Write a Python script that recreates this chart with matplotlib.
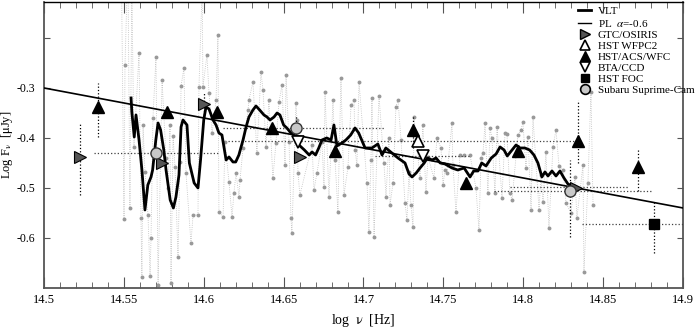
import numpy as np
import matplotlib
matplotlib.use('Agg')
import matplotlib.pyplot as plt
from matplotlib.lines import Line2D

plt.rcParams['font.family'] = ['Liberation Serif', 'DejaVu Serif']
plt.rcParams['mathtext.fontset'] = 'stix'

output_file = 'out.png'

# Grey spectrum points (log nu, log F)
spec_x = [14.5485, 14.5501, 14.5507, 14.5525, 14.5538, 14.5550, 14.5563, 14.5595, 14.5607,
          14.5613, 14.5620, 14.5632, 14.5651, 14.5664, 14.5670, 14.5682, 14.5701, 14.5714,
          14.5739, 14.5764, 14.5776, 14.5789, 14.5795, 14.5808, 14.5820, 14.5839, 14.5851,
          14.5858, 14.5876, 14.5889, 14.5920, 14.5933, 14.5964, 14.5970, 14.5990, 14.5995,
          14.6020, 14.6033, 14.6052, 14.6077, 14.6089, 14.6095, 14.6121, 14.6133, 14.6158,
          14.6177, 14.6189, 14.6202, 14.6221, 14.6227, 14.6246, 14.6277, 14.6283, 14.6308,
          14.6333, 14.6358, 14.6371, 14.6390, 14.6408, 14.6433, 14.6452, 14.6471, 14.6490,
          14.6509, 14.6515, 14.6534, 14.6546, 14.6552, 14.6577, 14.6584, 14.6590, 14.6602,
          14.6678, 14.6690, 14.6709, 14.6740, 14.6753, 14.6759, 14.6784, 14.6809, 14.6822,
          14.6840, 14.6859, 14.6878, 14.6903, 14.6922, 14.6941, 14.6947, 14.6959, 14.6972,
          14.7022, 14.7034, 14.7047, 14.7053, 14.7066, 14.7097, 14.7128, 14.7141, 14.7160,
          14.7166, 14.7185, 14.7203, 14.7216, 14.7235, 14.7260, 14.7272, 14.7285, 14.7297,
          14.7310, 14.7316, 14.7354, 14.7372, 14.7391, 14.7404, 14.7441, 14.7460, 14.7485,
          14.7498, 14.7510, 14.7523, 14.7554, 14.7560, 14.7579, 14.7604, 14.7629, 14.7667,
          14.7704, 14.7723, 14.7736, 14.7748, 14.7761, 14.7779, 14.7792, 14.7804, 14.7823,
          14.7836, 14.7867, 14.7886, 14.7898, 14.7917, 14.7930, 14.7967, 14.7986, 14.7998,
          14.8017, 14.8030, 14.8049, 14.8061, 14.8099, 14.8111, 14.8124, 14.8142, 14.8161,
          14.8186, 14.8205, 14.8224, 14.8249, 14.8268, 14.8299, 14.8324, 14.8336, 14.8374,
          14.8380, 14.8405, 14.8424, 14.8437]
spec_y = [-0.08, -0.562, -0.254, -0.05, -0.540, -0.10, -0.418, -0.230, -0.560,
          -0.678, -0.374, -0.468, -0.554, -0.676, -0.600, -0.360, -0.238, -0.694,
          -0.284, -0.440, -0.500, -0.374, -0.690, -0.396, -0.458, -0.638, -0.448,
          -0.296, -0.260, -0.470, -0.610, -0.554, -0.554, -0.298, -0.10, -0.298,
          -0.234, -0.310, -0.390, -0.324, -0.194, -0.548, -0.558, -0.408, -0.488,
          -0.558, -0.510, -0.470, -0.518, -0.484, -0.420, -0.344, -0.324, -0.288,
          -0.430, -0.268, -0.304, -0.418, -0.324, -0.480, -0.410, -0.328, -0.294,
          -0.454, -0.274, -0.408, -0.560, -0.590, -0.330, -0.364, -0.470, -0.514,
          -0.414, -0.504, -0.470, -0.408, -0.498, -0.308, -0.518, -0.324, -0.444,
          -0.548, -0.280, -0.514, -0.458, -0.334, -0.324, -0.424, -0.454, -0.288,
          -0.490, -0.588, -0.444, -0.320, -0.598, -0.316, -0.450, -0.518, -0.400,
          -0.534, -0.490, -0.338, -0.324, -0.404, -0.530, -0.564, -0.468, -0.534,
          -0.578, -0.358, -0.480, -0.374, -0.508, -0.438, -0.480, -0.400, -0.420,
          -0.494, -0.464, -0.470, -0.370, -0.454, -0.548, -0.434, -0.434, -0.434,
          -0.500, -0.584, -0.440, -0.430, -0.370, -0.510, -0.380, -0.400, -0.510,
          -0.378, -0.520, -0.390, -0.392, -0.510, -0.524, -0.394, -0.384, -0.368,
          -0.460, -0.398, -0.544, -0.358, -0.544, -0.474, -0.528, -0.428, -0.580,
          -0.418, -0.384, -0.456, -0.464, -0.530, -0.550, -0.478, -0.560, -0.454,
          -0.668, -0.490, -0.308, -0.534]

# VLT smoothed spectrum
vlt_x = [14.5545, 14.5550, 14.5565, 14.5576, 14.5595, 14.5613, 14.5632, 14.5650, 14.5670,
         14.5680, 14.5700, 14.5714, 14.5730, 14.5750, 14.5764, 14.5790, 14.5810, 14.5826,
         14.5845, 14.5858, 14.5870, 14.5895, 14.5910, 14.5940, 14.5964, 14.5980, 14.6000,
         14.6014, 14.6033, 14.6058, 14.6077, 14.6095, 14.6114, 14.6140, 14.6158, 14.6183,
         14.6200, 14.6220, 14.6246, 14.6265, 14.6283, 14.6308, 14.6327, 14.6350, 14.6377,
         14.6396, 14.6415, 14.6440, 14.6459, 14.6477, 14.6500, 14.6520, 14.6546, 14.6565,
         14.6596, 14.6630, 14.6660, 14.6678, 14.6700, 14.6720, 14.6740, 14.6770, 14.6797,
         14.6815, 14.6834, 14.6865, 14.6890, 14.6920, 14.6947, 14.6970, 14.7010, 14.7053,
         14.7090, 14.7116, 14.7140, 14.7178, 14.7216, 14.7260, 14.7285, 14.7304, 14.7330,
         14.7354, 14.7380, 14.7400, 14.7430, 14.7454, 14.7480, 14.7510, 14.7554, 14.7590,
         14.7630, 14.7667, 14.7690, 14.7717, 14.7740, 14.7767, 14.7800, 14.7830, 14.7855,
         14.7880, 14.7900, 14.7930, 14.7955, 14.7980, 14.8010, 14.8040, 14.8067, 14.8092,
         14.8117, 14.8136, 14.8155, 14.8180, 14.8205, 14.8230, 14.8255, 14.8280, 14.8305,
         14.8330]
vlt_y = [-0.320, -0.348, -0.398, -0.354, -0.404, -0.464, -0.544, -0.494, -0.478,
         -0.464, -0.404, -0.370, -0.384, -0.424, -0.464, -0.524, -0.540, -0.518,
         -0.474, -0.378, -0.364, -0.374, -0.450, -0.490, -0.500, -0.444, -0.364,
         -0.338, -0.342, -0.364, -0.374, -0.390, -0.394, -0.444, -0.438, -0.448,
         -0.448, -0.434, -0.404, -0.378, -0.358, -0.344, -0.336, -0.344, -0.354,
         -0.358, -0.364, -0.358, -0.350, -0.354, -0.374, -0.380, -0.390, -0.394,
         -0.414, -0.424, -0.434, -0.428, -0.434, -0.420, -0.404, -0.400, -0.404,
         -0.374, -0.416, -0.410, -0.404, -0.394, -0.380, -0.390, -0.420, -0.420,
         -0.412, -0.434, -0.420, -0.430, -0.440, -0.450, -0.472, -0.478, -0.470,
         -0.460, -0.450, -0.440, -0.444, -0.440, -0.450, -0.452, -0.460, -0.464,
         -0.460, -0.478, -0.466, -0.466, -0.450, -0.456, -0.440, -0.432, -0.418,
         -0.424, -0.436, -0.424, -0.414, -0.420, -0.420, -0.424, -0.434, -0.450,
         -0.478, -0.468, -0.476, -0.466, -0.476, -0.466, -0.480, -0.492, -0.496,
         -0.500]

# Power law alpha = -0.6
pl_x = [14.5, 14.9]
pl_y = [-0.30, -0.54]

# Photometric points
gtc_x = [14.5225, 14.5740, 14.6000, 14.6600, 14.8330]
gtc_y = [-0.438, -0.450, -0.332, -0.438, -0.500]
wfpc2_x = [14.734]
wfpc2_y = [-0.406]
acs_x = [14.534, 14.577, 14.608, 14.643, 14.682, 14.731, 14.764, 14.797, 14.834, 14.872]
acs_y = [-0.338, -0.348, -0.348, -0.380, -0.426, -0.384, -0.490, -0.426, -0.406, -0.458]
bta_x = [14.659, 14.737]
bta_y = [-0.408, -0.436]
foc_x = [14.882]
foc_y = [-0.572]
subaru_x = [14.570, 14.658, 14.829]
subaru_y = [-0.430, -0.380, -0.506]

# vertical error bars (x, low, high)
vbar_x = [14.5225, 14.534, 14.600, 14.731, 14.829, 14.834, 14.872, 14.882, 14.658]
vbar_lo = [-0.514, -0.398, -0.360, -0.420, -0.598, -0.450, -0.506, -0.630, -0.400]
vbar_hi = [-0.370, -0.290, -0.310, -0.354, -0.444, -0.324, -0.420, -0.524, -0.355]
# horizontal error bars (y, left, right)
hbar_y = [-0.430, -0.380, -0.406, -0.436, -0.506, -0.498, -0.572]
hbar_lo = [14.531, 14.612, 14.615, 14.707, 14.782, 14.792, 14.837]
hbar_hi = [14.609, 14.713, 14.834, 14.767, 14.881, 14.866, 14.900]

fig = plt.figure(figsize=(6.95, 3.31), dpi=100)
ax = fig.add_axes([0.0633, 0.130, 0.9194, 0.864])

# grey spectrum
ax.plot(spec_x, spec_y, color='#bdbdbd', lw=0.6, ls=':', zorder=1)
ax.plot(spec_x, spec_y, ls='none', marker='o', ms=1.8, color='#999999', zorder=2)

# error bars
ax.vlines(vbar_x, vbar_lo, vbar_hi, colors='black', linestyles=':', lw=0.9, zorder=3)
ax.hlines(hbar_y, hbar_lo, hbar_hi, colors='#404040', linestyles=':', lw=0.9, zorder=3)

ax.plot(pl_x, pl_y, color='black', lw=1.2, zorder=4)
ax.plot(vlt_x, vlt_y, color='black', lw=2.0, zorder=5)

ax.plot(gtc_x, gtc_y, ls='none', marker='>', ms=8, mfc='#555555', mec='black', mew=0.8, zorder=6)
ax.plot(wfpc2_x, wfpc2_y, ls='none', marker='^', ms=8, mfc='white', mec='black', mew=1.2, zorder=6)
ax.plot(acs_x, acs_y, ls='none', marker='^', ms=8, color='black', zorder=6)
ax.plot(bta_x, bta_y, ls='none', marker='v', ms=8, mfc='white', mec='black', mew=1.2, zorder=6)
ax.plot(foc_x, foc_y, ls='none', marker='s', ms=7, color='black', zorder=6)
ax.plot(subaru_x, subaru_y, ls='none', marker='o', ms=8, mfc='#c8c8c8', mec='#333333', mew=1.0, zorder=6)

ax.set_xlim(14.5, 14.9)
ax.set_ylim(-0.7, -0.128)

ax.set_xticks(np.arange(14.5, 14.901, 0.05))
ax.set_xticklabels(['14.5', '14.55', '14.6', '14.65', '14.7', '14.75', '14.8', '14.85', '14.9'])
ax.set_xticks(np.arange(14.5, 14.901, 0.01), minor=True)
ax.set_yticks([-0.6, -0.5, -0.4, -0.3, -0.2])
ax.set_yticklabels(['-0.6', '-0.5', '-0.4', '-0.3', ''])

ax.tick_params(axis='x', which='major', direction='in', length=8, top=True, labelsize=9,
               color='#555555', pad=4)
ax.tick_params(axis='x', which='minor', direction='in', length=4, top=True, color='#555555')
ax.tick_params(axis='y', which='major', direction='in', length=4, right=True, labelsize=8.5,
               color='#555555', pad=6)

for side in ['left', 'bottom', 'right']:
    ax.spines[side].set_color('#555555')
    ax.spines[side].set_linewidth(1.3)
ax.spines['top'].set_linewidth(1.0)

ax.set_xlabel(r'log  $\mathrm{\nu}$  [Hz]', fontsize=10)
ax.set_ylabel(r'Log F$_{\mathrm{\nu}}$  [$\mathrm{\mu}$Jy]', fontsize=9)
ax.xaxis.set_label_coords(0.5, -0.083)
ax.yaxis.set_label_coords(-0.045, 0.5)

handles = [
    Line2D([], [], color='black', lw=2.0),
    Line2D([], [], color='black', lw=1.0),
    Line2D([], [], ls='none', marker='>', ms=7, mfc='#555555', mec='black'),
    Line2D([], [], ls='none', marker='^', ms=7, mfc='white', mec='black', mew=1.2),
    Line2D([], [], ls='none', marker='^', ms=7, color='black'),
    Line2D([], [], ls='none', marker='v', ms=7, mfc='white', mec='black', mew=1.2),
    Line2D([], [], ls='none', marker='s', ms=6, color='black'),
    Line2D([], [], ls='none', marker='o', ms=7, mfc='#c8c8c8', mec='black', mew=1.2),
]
labels = ['VLT', r'PL  $\alpha$=-0.6', 'GTC/OSIRIS', 'HST WFPC2', 'HST/ACS/WFC',
          'BTA/CCD', 'HST FOC', 'Subaru Suprime-Cam']
ax.legend(handles, labels, loc='upper right', bbox_to_anchor=(1.025, 1.0), frameon=False,
          fontsize=8, handlelength=1.2, handletextpad=0.6, labelspacing=0.12,
          borderaxespad=0.2, borderpad=0.2)

plt.savefig(output_file, dpi=100)
